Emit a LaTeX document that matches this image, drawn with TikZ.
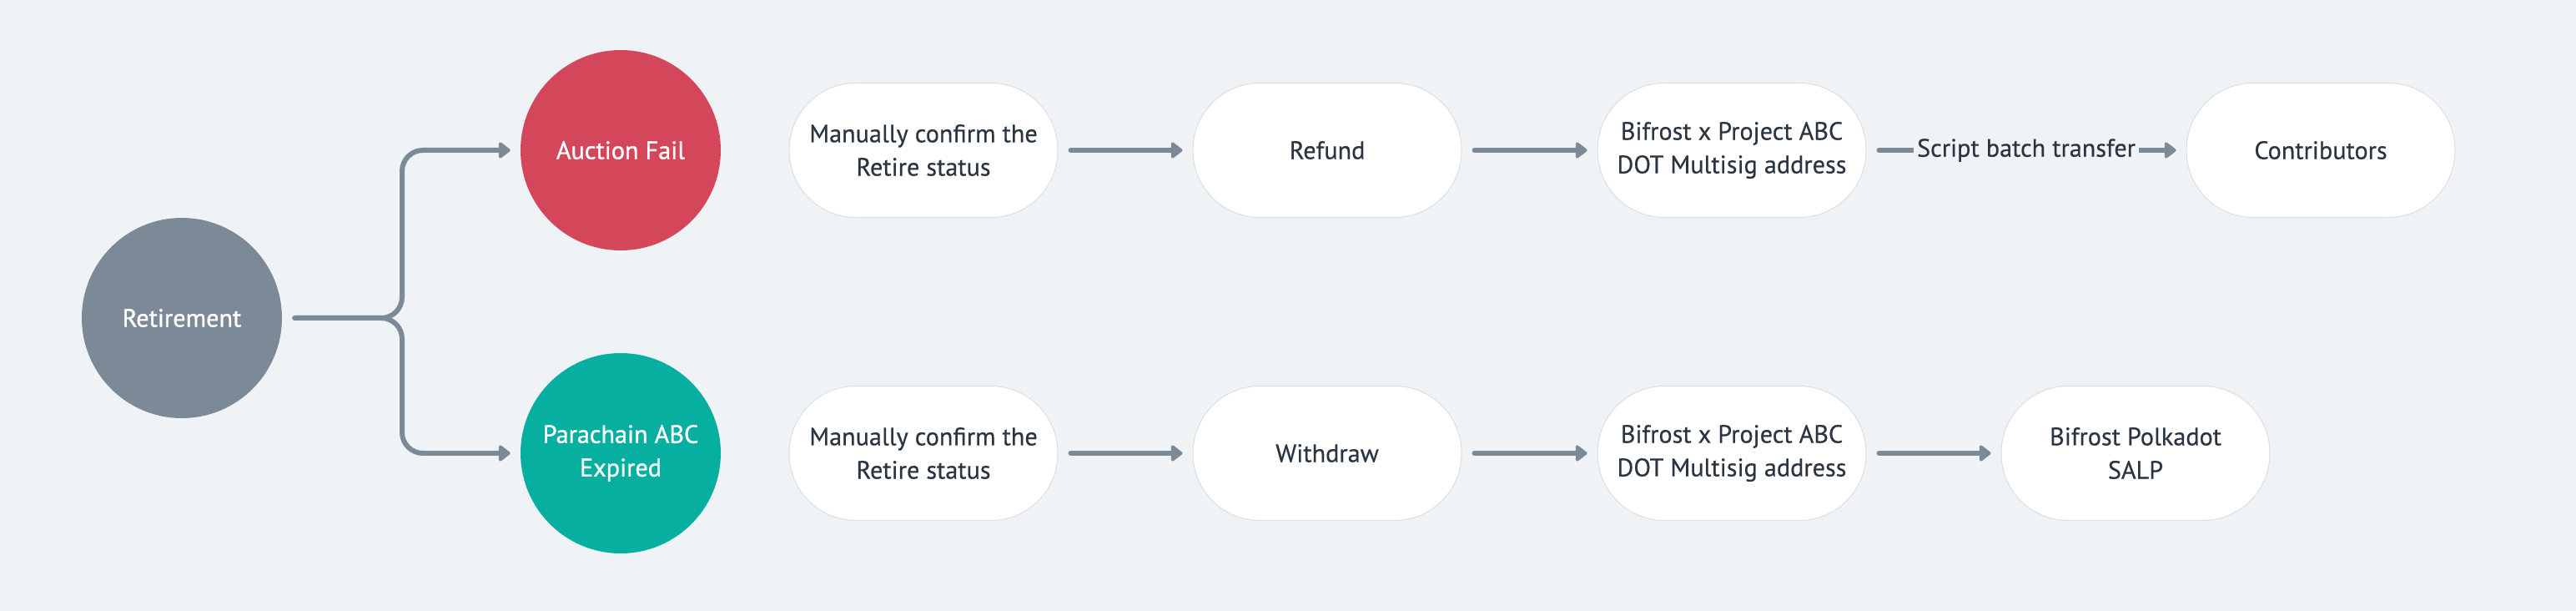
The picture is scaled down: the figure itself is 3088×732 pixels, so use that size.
\documentclass[tikz,border=0pt]{standalone}
\usepackage{fontspec}
\setmainfont{PT Sans}
\newfontfamily\texte{PT Sans}[FakeBold=0.4]
\newfontfamily\titre{PT Sans}[FakeBold=1]
\usepackage{tikz}
\usetikzlibrary{arrows.meta}
\definecolor{fond}{HTML}{F0F3F6}
\definecolor{gris}{HTML}{7B8A96}
\definecolor{rouge}{HTML}{D4465A}
\definecolor{vert}{HTML}{07AFA0}
\definecolor{encre}{HTML}{2A3541}
\definecolor{bord}{HTML}{DCE0E4}

\begin{document}
\begin{tikzpicture}[x=0.02cm,y=-0.02cm,font=\texte\fontsize{17.2}{22.8}\selectfont]
	\tikzstyle{etat}=[circle,minimum size=4.8cm,inner sep=0pt,text=white,
	align=center,font=\titre\fontsize{17.2}{22.8}\selectfont]
	\tikzstyle{etape}=[rectangle,draw=bord,line width=0.6pt,fill=white,
	rounded corners=1.6cm,minimum width=6.44cm,minimum height=3.22cm,
	text=encre,align=center]

	\fill[fond] (0,0) rectangle (3088,732);

	\node[etat,fill=gris] (r0) at (218,381) {Retirement};
	\node[etat,fill=rouge] (e1) at (744,180) {Auction Fail};
	\node[etat,fill=vert] (e2) at (744,543) {Parachain ABC\\Expired};

	\node[etape] (a1) at (1107,180) {Manually confirm the\\Retire status};
	\node[etape] (a2) at (1591,180) {Refund};
	\node[etape] (a3) at (2076,180) {Bifrost x Project ABC\\DOT Multisig address};
	\node[etape] (a4) at (2782,180) {Contributors};

	\node[etape] (b1) at (1107,543) {Manually confirm the\\Retire status};
	\node[etape] (b2) at (1591,543) {Withdraw};
	\node[etape] (b3) at (2076,543) {Bifrost x Project ABC\\DOT Multisig address};
	\node[etape] (b4) at (2560,543) {Bifrost Polkadot\\SALP};

	\tikzstyle{fleche}=[-{Triangle[length=0.3cm,width=0.44cm,round]},
	line width=0.12cm,draw=gris,line cap=round,shorten <=0.3cm,
	shorten >=0.24cm]

	\coordinate (br) at (482,381);
	\draw[fleche,rounded corners=0.5cm] (r0) -- (br) |- (e1);
	\draw[fleche,rounded corners=0.5cm] (r0) -- (br) |- (e2);

	\draw[fleche] (a1) -- (a2);
	\draw[fleche] (a2) -- (a3);
	\draw[fleche] (a3) -- node[fill=fond,text=encre,inner sep=0.08cm]
	{Script batch transfer} (a4);

	\draw[fleche] (b1) -- (b2);
	\draw[fleche] (b2) -- (b3);
	\draw[fleche] (b3) -- (b4);
\end{tikzpicture}
\end{document}
